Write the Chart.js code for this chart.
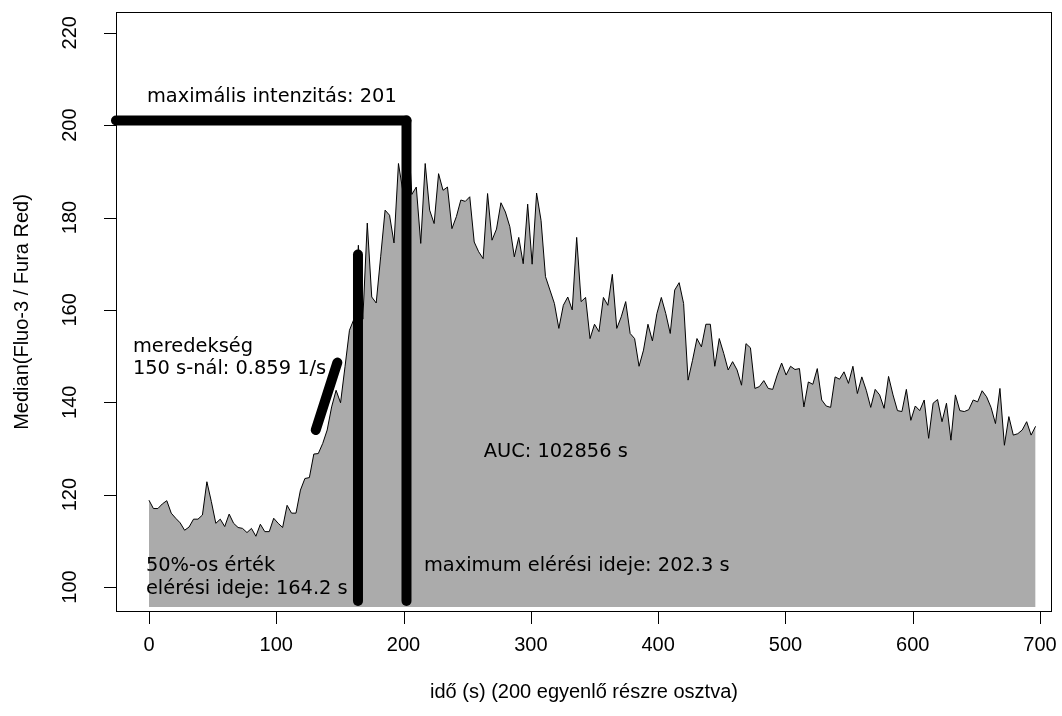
<!DOCTYPE html>
<html>
<head>
<meta charset="utf-8">
<script src="https://cdn.jsdelivr.net/npm/chart.js@4.4.1/dist/chart.umd.min.js"></script>
<style>
  body { margin: 0; background: #fff; }
  #grafikon { display: block; }
</style>
</head>
<body>
<canvas id="grafikon" width="1062" height="716"></canvas>
<script>
'use strict';

// mért intenzitás (200 egyenlő részre osztott idő)
const intenzitas = [
  118.8,117.0,117.0,118.0,118.7,116.0,114.9,113.9,112.3,113.0,
  114.7,114.7,115.6,122.8,118.5,113.8,114.7,113.1,115.8,113.8,
  112.9,112.7,111.8,112.7,111.0,113.6,112.0,112.0,114.9,113.8,
  112.9,117.7,116.0,116.0,121.0,123.5,123.7,128.8,128.9,131.1,
  134.0,139.0,142.6,139.9,147.7,155.6,158.0,174.0,158.0,178.8,
  162.8,161.5,171.5,181.6,180.5,174.5,191.7,185.6,201.0,185.0,
  186.6,174.4,191.7,181.6,178.7,189.5,185.9,186.6,177.6,180.2,
  183.8,183.5,184.5,174.7,172.6,171.1,185.2,175.1,177.5,183.2,
  181.2,178.0,171.5,175.7,170.0,182.9,169.9,185.3,179.4,167.2,
  164.3,161.4,156.0,161.0,162.8,160.0,175.7,161.8,162.7,153.8,
  156.9,155.3,162.7,161.0,167.7,156.0,158.5,161.8,154.9,153.8,
  147.8,151.3,156.9,153.3,159.2,162.7,159.2,154.9,164.3,165.9,
  161.4,144.8,149.1,153.8,152.0,156.9,156.9,147.8,153.8,150.6,
  147.0,148.8,147.0,143.7,152.7,151.8,143.0,143.4,144.7,143.0,
  142.8,145.9,148.5,145.9,147.8,147.1,147.3,139.0,144.4,143.9,
  147.3,140.5,139.2,138.9,145.5,145.0,146.6,144.1,147.8,141.9,
  145.5,142.6,138.9,142.8,141.6,138.7,145.6,141.6,138.2,138.0,
  142.8,136.1,139.2,138.2,140.5,132.2,139.8,140.6,135.8,139.8,
  131.8,141.6,138.2,138.0,138.4,140.5,140.1,142.5,141.2,138.9,
  135.4,143.0,130.7,136.9,132.9,133.2,134.0,135.8,132.9,134.8
];
const lepes = 3.5; // s, egy rész hossza
const ido = intenzitas.map((_, i) => i * lepes);

// tengely feliratok
const xTickek = [0, 100, 200, 300, 400, 500, 600, 700];
const yTickek = [100, 120, 140, 160, 180, 200, 220];

// számolt jellemzők
const maxErtek = 201;
const maxIdo = 202.3;
const felIdo = 164.2;
const felErtek = 172;
const meredekX = [131, 148];
const meredekY = [134.0, 148.6];
const alap = 95.7;   // a kitöltés alja
const vonalAlj = 97; // a függőleges vonalak alja

const pont = (x, y) => x.map((v, i) => ({ x: v, y: y[i] }));

const vastag = {
  type: 'line',
  borderColor: '#000',
  borderWidth: 10,
  borderCapStyle: 'round',
  pointRadius: 0,
  fill: false,
  clip: false,
  tension: 0
};

const AXFONT = '20px "Liberation Sans Narrow", "Liberation Sans", sans-serif';
const TXFONT = '19.4px "DejaVu Sans", sans-serif';

// R-szerű tengelyek, keret, feliratok
const rTengely = {
  id: 'rTengely',
  afterDraw(chart) {
    const { ctx, chartArea: ca, scales } = chart;
    const x = scales.x, y = scales.y;
    ctx.save();
    ctx.strokeStyle = '#000';
    ctx.lineWidth = 1;
    ctx.strokeRect(ca.left + 0.5, ca.top + 0.5, ca.right - ca.left - 1, ca.bottom - ca.top - 1);

    ctx.fillStyle = '#000';
    ctx.font = AXFONT;
    ctx.textAlign = 'center';
    ctx.textBaseline = 'middle';
    ctx.beginPath();
    for (const t of xTickek) {
      const px = Math.round(x.getPixelForValue(t)) + 0.5;
      ctx.moveTo(px, ca.bottom);
      ctx.lineTo(px, ca.bottom + 12);
    }
    for (const t of yTickek) {
      const py = Math.round(y.getPixelForValue(t)) + 0.5;
      ctx.moveTo(ca.left, py);
      ctx.lineTo(ca.left - 12, py);
    }
    ctx.stroke();
    for (const t of xTickek) {
      ctx.fillText(String(t), x.getPixelForValue(t), 645);
    }
    for (const t of yTickek) {
      ctx.save();
      ctx.translate(70, y.getPixelForValue(t));
      ctx.rotate(-Math.PI / 2);
      ctx.fillText(String(t), 0, 0);
      ctx.restore();
    }
    ctx.fillText('idő (s) (200 egyenlő részre osztva)', (ca.left + ca.right) / 2, 692);
    ctx.save();
    ctx.translate(22, (ca.top + ca.bottom) / 2);
    ctx.rotate(-Math.PI / 2);
    ctx.fillText('Median(Fluo-3 / Fura Red)', 0, 0);
    ctx.restore();

    // szöveges megjegyzések
    ctx.font = TXFONT;
    const irj = (s, vx, vy) => {
      ctx.textAlign = 'left';
      ctx.fillText(s, x.getPixelForValue(vx), y.getPixelForValue(vy));
    };
    irj('maximális intenzitás: ' + maxErtek, -1.6, 206);
    irj('meredekség', -12.6, 152);
    irj('150 s-nál: 0.859 1/s', -12.6, 147.2);
    irj('AUC: 102856 s', 263, 129.2);
    irj('50%-os érték', -2.4, 104.5);
    irj('elérési ideje: ' + felIdo + ' s', -2.4, 99.6);
    irj('maximum elérési ideje: ' + maxIdo + ' s', 216, 104.5);
    ctx.restore();
  }
};

new Chart(document.getElementById('grafikon'), {
  type: 'line',
  data: {
    datasets: [
      Object.assign({ data: pont([-25.9, maxIdo], [maxErtek, maxErtek]) }, vastag),
      Object.assign({ data: pont([maxIdo, maxIdo], [vonalAlj, maxErtek]) }, vastag),
      Object.assign({ data: pont([felIdo, felIdo], [vonalAlj, felErtek]) }, vastag),
      Object.assign({ data: pont(meredekX, meredekY) }, vastag),
      {
        data: pont(ido, intenzitas),
        borderColor: '#000',
        borderWidth: 1,
        backgroundColor: '#ababab',
        fill: { value: alap },
        pointRadius: 0,
        tension: 0
      }
    ]
  },
  options: {
    responsive: false,
    animation: false,
    devicePixelRatio: 1,
    layout: { padding: { left: 116, top: 12, right: 10, bottom: 104 } },
    plugins: { legend: { display: false }, tooltip: { enabled: false } },
    scales: {
      x: { type: 'linear', min: -25.9, max: 709.4, display: false },
      y: { type: 'linear', min: 94.6, max: 224.5, display: false }
    }
  },
  plugins: [rTengely]
});
</script>
</body>
</html>
